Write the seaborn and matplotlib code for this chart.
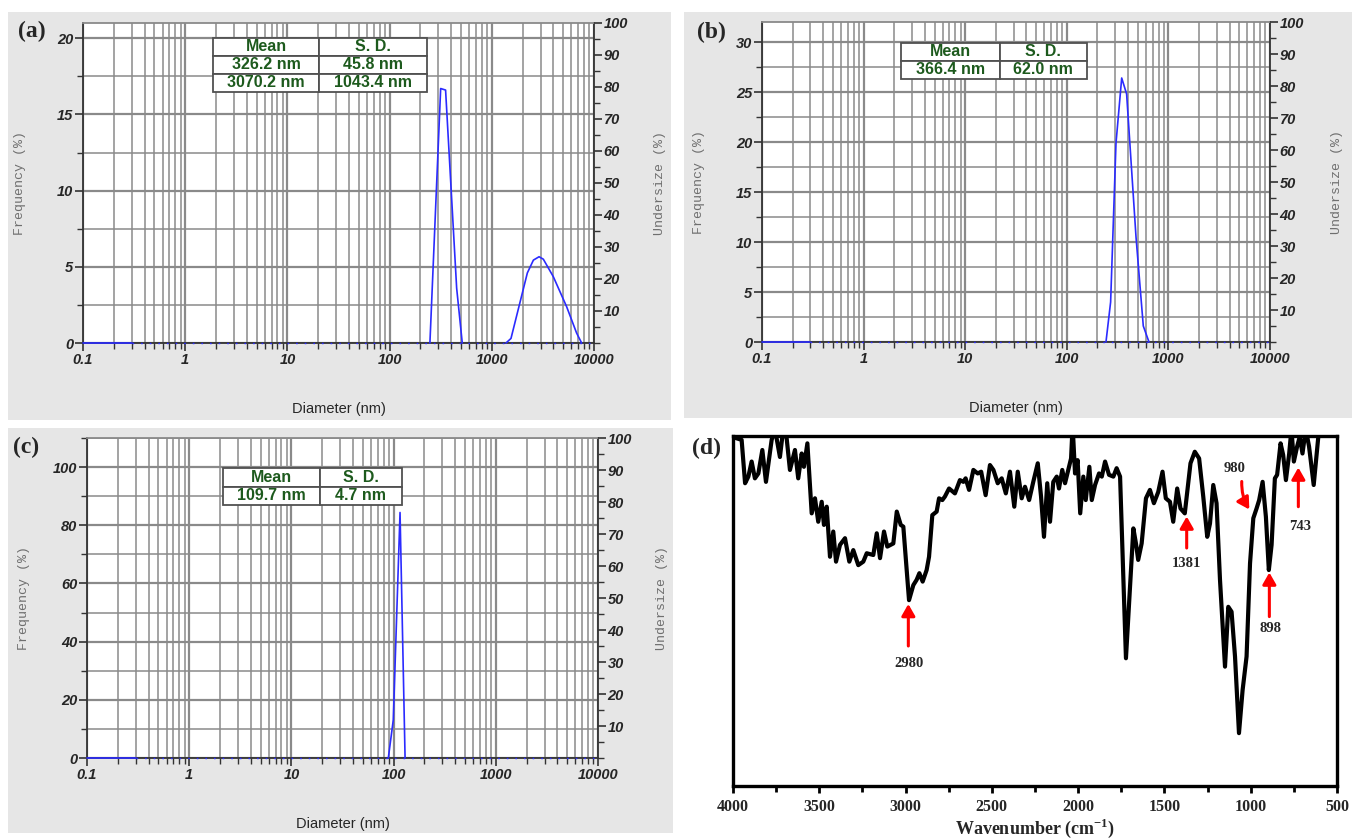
import seaborn as sns
import matplotlib.pyplot as plt
from matplotlib.patches import Rectangle
from matplotlib.ticker import MultipleLocator, LogLocator, NullFormatter

# --- DLS data: diameter (nm) vs frequency (%) ---
a_peak1_d = [248, 316, 353, 453, 514]
a_peak1_f = [0, 16.7, 16.6, 3.6, 0]
a_peak2_d = [1377, 1541, 2228, 2553, 2900, 3193, 4000, 5400, 6760, 7570]
a_peak2_f = [0, 0.3, 4.6, 5.44, 5.66, 5.5, 4.35, 2.38, 0.65, 0]

b_peak_d = [243, 270, 305, 347, 388, 480, 566, 644]
b_peak_f = [0, 4.0, 19.9, 26.4, 24.8, 10.5, 1.6, 0]

c_peak_d = [88.8, 99.3, 115.6, 129.5]
c_peak_f = [0, 13.1, 84.4, 0]

start_d = [0.1, 0.3]
start_f = [0, 0]

# table contents
tab_head = ["Mean", "S. D."]
a_mean = ["326.2 nm", "3070.2 nm"]
a_sd = ["45.8 nm", "1043.4 nm"]
b_mean = ["366.4 nm"]
b_sd = ["62.0 nm"]
c_mean = ["109.7 nm"]
c_sd = ["4.7 nm"]

x_ticks = [0.1, 1, 10, 100, 1000, 10000]
x_labels = ["0.1", "1", "10", "100", "1000", "10000"]

# --- FTIR data ---
ir_wn = [3983, 3950, 3930, 3911, 3892, 3873, 3853, 3830, 3809, 3776, 3757, 3728, 3709,
         3689, 3670, 3641, 3622, 3602, 3589, 3569, 3544, 3525, 3506, 3486, 3473, 3457,
         3438, 3419, 3403, 3380, 3351, 3326, 3303, 3274, 3245, 3225, 3187, 3167, 3148,
         3125, 3106, 3071, 3051, 3028, 3013, 2980, 2955, 2936, 2920, 2901, 2878, 2864,
         2845, 2820, 2806, 2787, 2772, 2748, 2714, 2685, 2665, 2652, 2632, 2607, 2582,
         2562, 2536, 2511, 2491, 2466, 2443, 2419, 2395, 2370, 2350, 2327, 2308, 2284,
         2260, 2234, 2215, 2198, 2179, 2163, 2144, 2124, 2111, 2092, 2076, 2053, 2041,
         2032, 2018, 2003, 1988, 1970, 1956, 1935, 1921, 1902, 1879, 1863, 1844, 1821,
         1796, 1777, 1757, 1723, 1703, 1680, 1665, 1652, 1632, 1607, 1584, 1561, 1536,
         1511, 1492, 1468, 1449, 1426, 1407, 1382, 1363, 1349, 1324, 1299, 1275, 1252,
         1236, 1217, 1198, 1178, 1149, 1130, 1111, 1091, 1068, 1047, 1024, 1004, 985,
         966, 951, 931, 912, 895, 879, 860, 847, 827, 812, 796, 777, 764, 750, 731, 716,
         700, 681, 662, 635, 616, 604, 590]
ir_t = [99.4, 98.9, 86.5, 88.4, 92.7, 87.9, 89.3, 96, 86.9, 98.9, 102, 94, 102,
        99.3, 90.3, 96, 87.9, 95, 91.2, 97.9, 77.9, 82.2, 75.5, 81.2, 74.6, 79.8,
        65.5, 72.7, 64.1, 68.9, 70.8, 64.1, 67.4, 63.1, 64.1, 66.5, 66, 72.2, 65.1,
        72.7, 68.4, 69.3, 78.4, 74.6, 74.1, 53.1, 57.4, 58.9, 60.8, 58.4, 61.7, 65.5,
        77.4, 78.4, 82.2, 81.7, 82.7, 85, 83.6, 87.4, 86.9, 87.9, 84.6, 90.3, 89.3,
        89.8, 83.1, 91.7, 90.3, 86.5, 87.9, 83.6, 89.8, 79.8, 89.8, 82.2, 85.5, 81.7,
        86.9, 92.2, 82.7, 71.2, 86.5, 75.5, 86.9, 88.4, 85, 90.3, 86.5, 91.2, 93.6,
        103, 89.3, 93.1, 77.9, 88.4, 81.7, 91.2, 81.7, 86, 89.3, 88.4, 92.7, 88.9,
        88.4, 90.8, 88.4, 36.5, 54, 73.6, 69.3, 64.6, 69.3, 82.2, 84.6, 80.8, 84,
        89.8, 82.2, 81.2, 75.5, 85, 79.3, 77.9, 86, 92.2, 95.5, 93.6, 82.7, 71.2,
        75, 86, 80.8, 58.9, 34.1, 51.2, 49.8, 37, 15.1, 27.4, 37, 63.6, 76.5,
        79.3, 81.7, 86.9, 76.9, 61.7, 68.9, 87.9, 88.9, 97.9, 94.6, 87.4, 95, 102, 92.7, 97, 99.8,
        95, 102, 97, 86, 96, 102, 102]
ir_peaks = ["2980", "1381", "980", "898", "743"]

sns.set_style("white")
plt.rcParams['font.family'] = ['Liberation Sans', 'DejaVu Sans']
plt.rcParams['mathtext.fontset'] = 'custom'
plt.rcParams['mathtext.rm'] = 'Liberation Serif'
plt.rcParams['mathtext.bf'] = 'Liberation Serif:bold'

W, H = 1353, 838
fig = plt.figure(figsize=(W / 100, H / 100), dpi=100)


def px_axes(x0, y0, x1, y1):
    return fig.add_axes([x0 / W, 1 - y1 / H, (x1 - x0) / W, (y1 - y0) / H])


def gray_box(x0, y0, x1, y1):
    fig.add_artist(Rectangle((x0 / W, 1 - y1 / H), (x1 - x0) / W, (y1 - y0) / H,
                             transform=fig.transFigure, facecolor='#e6e6e6',
                             edgecolor='none', zorder=-5))


blue = '#2b2bff'
green = '#1d5a1d'
grid_c = '#8a8a8a'
tick_font = dict(fontstyle='italic', fontweight='bold', fontsize=10.5)


def dls_panel(box, ymax, ymaj, ymin, curves, rows, tab_bbox, col_w, letter, letter_xy, lab_x):
    ax = px_axes(*box)
    ax.set_facecolor('white')
    # dotted zero baseline, solid measured segments on top
    ax.plot([0.3, 10000], [0, 0], color=blue, lw=1.0, ls=(0, (1.2, 5)), zorder=6, clip_on=False)
    for d, f in curves:
        sns.lineplot(x=d, y=f, ax=ax, color=blue, lw=1.2, sort=False, estimator=None, zorder=7)
    for ln in ax.lines:
        ln.set_clip_on(False)
    ax.set_xscale('log')
    ax.set_xlim(0.1, 10000)
    ax.set_ylim(0, ymax)
    ax.set_xticks(x_ticks, x_labels, **tick_font)
    ax.xaxis.set_minor_locator(LogLocator(base=10, subs=range(2, 10), numticks=20))
    ax.xaxis.set_minor_formatter(NullFormatter())
    yt = list(range(0, int(ymax) + 1, ymaj))
    ax.set_yticks(yt, [str(v) for v in yt], **tick_font)
    ax.yaxis.set_minor_locator(MultipleLocator(ymin))
    ax.grid(which='major', color=grid_c, lw=1.6)
    ax.grid(which='minor', color=grid_c, lw=1.1)
    ax.tick_params(which='major', direction='out', length=6, width=1.2, color='#333333', pad=1, left=True, bottom=True)
    ax.tick_params(which='minor', direction='out', length=4, width=1.0, color='#333333', left=True, bottom=True)
    for s in ['left', 'bottom', 'right']:
        ax.spines[s].set_color('#333333')
        ax.spines[s].set_linewidth(1.3)
    ax.spines['top'].set_color(grid_c)
    ax.spines['top'].set_linewidth(1.3)
    ax.set_xlabel("Diameter (nm)", fontsize=10.5)
    ax.xaxis.set_label_coords(0.5, -0.184)
    ax.set_ylabel("Frequency (%)", family='Liberation Mono', color='#6e6e6e', fontsize=9.5)
    ax.yaxis.set_label_coords(lab_x[0], 0.5)

    ax2 = ax.twinx()
    ax2.set_ylim(0, 100)
    rt = list(range(10, 101, 10))
    ax2.set_yticks(rt, [str(v) for v in rt], **tick_font)
    ax2.yaxis.set_minor_locator(MultipleLocator(5))
    ax2.grid(False)
    ax2.tick_params(which='major', direction='out', length=6, width=1.2, color='#333333', pad=1, right=True)
    ax2.tick_params(which='minor', direction='out', length=4, width=1.0, color='#333333', right=True)
    for s in ax2.spines.values():
        s.set_visible(False)
    ax2.set_ylabel("Undersize (%)", family='Liberation Mono', color='#6e6e6e', fontsize=9.5)
    ax2.yaxis.set_label_coords(lab_x[1], 0.5)

    tab = ax.table(cellText=rows, colWidths=col_w, bbox=tab_bbox, cellLoc='center')
    tab.auto_set_font_size(False)
    tab.set_fontsize(11.5)
    tab.set_zorder(10)
    for cell in tab.get_celld().values():
        cell.set_edgecolor('#505050')
        cell.set_linewidth(1.3)
        cell.set_facecolor('white')
        cell.get_text().set_color(green)
        cell.get_text().set_fontweight('bold')

    fig.text(letter_xy[0] / W, 1 - letter_xy[1] / H, letter, family='Liberation Serif',
             fontweight='bold', fontsize=17, ha='center', va='center')
    return ax


gray_box(8, 12, 671, 420)
gray_box(684, 12, 1352, 418)
gray_box(8, 428, 673, 833)

rows_a = [tab_head] + [[m, s] for m, s in zip(a_mean, a_sd)]
rows_b = [tab_head] + [[m, s] for m, s in zip(b_mean, b_sd)]
rows_c = [tab_head] + [[m, s] for m, s in zip(c_mean, c_sd)]

dls_panel((83, 23, 594, 343), 21, 5, 2.5,
          [(start_d, start_f), (a_peak1_d, a_peak1_f), (a_peak2_d, a_peak2_f)],
          rows_a, [0.2544, 0.7844, 0.4188, 0.169], [0.495, 0.505], "(a)", (32, 31),
          (-0.112, 1.117))
dls_panel((762, 22, 1270, 342), 32, 5, 2.5,
          [(start_d, start_f), (b_peak_d, b_peak_f)],
          rows_b, [0.2736, 0.8219, 0.366, 0.1125], [0.53, 0.47], "(b)", (711, 32),
          (-0.113, 1.12))
dls_panel((87, 438, 598, 758), 110, 20, 10,
          [(start_d, start_f), (c_peak_d, c_peak_f)],
          rows_c, [0.2661, 0.7906, 0.3503, 0.1156], [0.54, 0.46], "(c)", (26, 447),
          (-0.112, 1.113))

# --- FTIR panel ---
ax4 = px_axes(733, 436, 1337, 786)
sns.lineplot(x=ir_wn, y=ir_t, ax=ax4, color='black', lw=3.0, sort=False, estimator=None,
             solid_joinstyle='round', solid_capstyle='round')
ax4.set_xlim(4000, 500)
ax4.set_ylim(0, 100)
ax4.set_yticks([])
xt = list(range(4000, 499, -500))
ax4.set_xticks(xt, [str(v) for v in xt], family='Liberation Serif', fontweight='bold', fontsize=11.5)
ax4.xaxis.set_minor_locator(MultipleLocator(250))
ax4.tick_params(which='major', direction='out', length=5, width=2, color='black', bottom=True, pad=4)
ax4.tick_params(which='minor', direction='out', length=4, width=2, color='black', bottom=True)
for s in ax4.spines.values():
    s.set_color('black')
    s.set_linewidth(2.4)
ax4.set_xlabel(r"Wavenumber (cm$^{\mathbf{-1}}$)", family='Liberation Serif', fontweight='bold', fontsize=13)
ax4.xaxis.set_label_coords(0.5, -0.088)

arrow = dict(arrowstyle='-|>,head_width=0.4,head_length=0.7', color='red', lw=2.2, shrinkA=0, shrinkB=0)
lab = dict(family='Liberation Serif', fontweight='bold', fontsize=10.5, ha='center', va='center')
# (label, arrow tip, arrow tail, label position)
ann = [(ir_peaks[0], (2984, 52), (2984, 40), (2980, 35)),
       (ir_peaks[1], (1371, 77), (1371, 68), (1371, 63.6)),
       (ir_peaks[3], (892, 61), (892, 48.4), (885, 45.1)),
       (ir_peaks[4], (724, 91), (724, 79.8), (714, 74.1))]
for text, tip, tail, pos in ann:
    ax4.annotate("", xy=tip, xytext=tail, arrowprops=arrow)
    ax4.text(pos[0], pos[1], text, **lab)
ax4.annotate("", xy=(1008, 79), xytext=(1052, 87),
             arrowprops=dict(arrow, connectionstyle='arc3,rad=0.15'))
ax4.text(1091, 90.8, ir_peaks[2], **lab)

fig.text(706 / W, 1 - 448 / H, "(d)", family='Liberation Serif', fontweight='bold',
         fontsize=17, ha='center', va='center')

fig.savefig("out.png", dpi=100)
